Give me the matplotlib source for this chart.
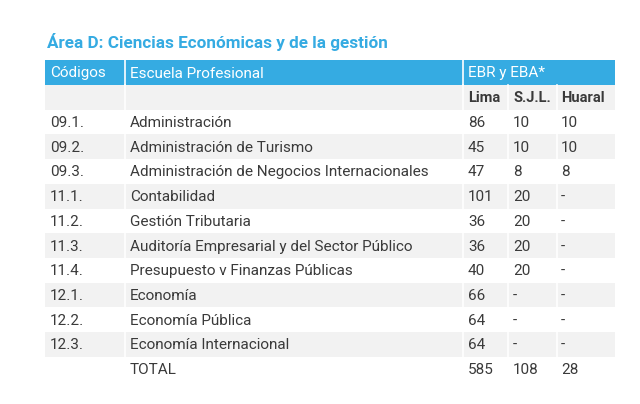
import matplotlib
matplotlib.use("Agg")
import matplotlib.pyplot as plt
from matplotlib.patches import Rectangle

title = "Área D: Ciencias Económicas y de la gestión"
header_cols = ["Códigos", "Escuela Profesional"]
group_header = "EBR y EBA*"
sub_headers = ["Lima", "S.J.L.", "Huaral"]
codes = ["09.1.", "09.2.", "09.3.", "11.1.", "11.2.", "11.3.", "11.4.", "12.1.", "12.2.", "12.3.", ""]
schools = ["Administración", "Administración de Turismo", "Administración de Negocios Internacionales",
           "Contabilidad", "Gestión Tributaria", "Auditoría Empresarial y del Sector Público",
           "Presupuesto v Finanzas Públicas", "Economía", "Economía Pública", "Economía Internacional",
           "TOTAL"]
lima = ["86", "45", "47", "101", "36", "36", "40", "66", "64", "64", "585"]
sjl = ["10", "10", "8", "20", "20", "20", "20", "-", "-", "-", "108"]
huaral = ["10", "10", "8", "-", "-", "-", "-", "-", "-", "-", "28"]

BLUE = "#35ABE2"
GRAY = "#F2F2F2"
TXT = "#3A3A3A"
FONT = ["Roboto", "DejaVu Sans"]

fig = plt.figure(figsize=(6.4, 4.04), dpi=100)
ax = fig.add_axes([0, 0, 1, 1])
ax.set_xlim(0, 640)
ax.set_ylim(404, 0)
ax.axis("off")

# column edges
x_edges = [45, 125, 463, 508, 557, 615]
text_x = [50, 130, 468, 513, 561]

ax.text(47, 42, title, color=BLUE, fontsize=12.3, fontweight="bold", family=FONT, va="center", ha="left")

# header row
hy0, hy1 = 60, 85
ax.add_patch(Rectangle((x_edges[0], hy0), x_edges[-1] - x_edges[0], hy1 - hy0, color=BLUE, lw=0))
for xe in [x_edges[1], x_edges[2]]:
    ax.plot([xe, xe], [hy0, hy1], color="white", lw=1.2)
hc = (hy0 + hy1) / 2 + 1
ax.text(text_x[0], hc, header_cols[0], color="white", fontsize=11, family=FONT, va="center")
ax.text(text_x[1], hc, header_cols[1], color="white", fontsize=11, family=FONT, va="center")
ax.text(text_x[2], hc, group_header, color="white", fontsize=11, family=FONT, va="center")

row_h = 24.7
# subheader row (gray)
sy0 = 85
ax.add_patch(Rectangle((x_edges[0], sy0), x_edges[-1] - x_edges[0], row_h, color=GRAY, lw=0))
for xe in x_edges[1:-1]:
    ax.plot([xe, xe], [sy0, sy0 + row_h], color="white", lw=1.2)
for i, s in enumerate(sub_headers):
    ax.text(text_x[2 + i], sy0 + row_h / 2 + 1, s, color=TXT, fontsize=10.5, fontweight="bold",
            family=FONT, va="center")

y0 = sy0 + row_h
for r in range(len(codes)):
    ytop = y0 + r * row_h
    if r % 2 == 1:
        ax.add_patch(Rectangle((x_edges[0], ytop), x_edges[-1] - x_edges[0], row_h, color=GRAY, lw=0))
        for xe in x_edges[1:-1]:
            ax.plot([xe, xe], [ytop, ytop + row_h], color="white", lw=1.2)
    yc = ytop + row_h / 2 + 1
    vals = [codes[r], schools[r], lima[r], sjl[r], huaral[r]]
    for c, v in enumerate(vals):
        ax.text(text_x[c], yc, v, color=TXT, fontsize=11, family=FONT, va="center", ha="left")

fig.savefig("out.png", dpi=100, facecolor="white")
